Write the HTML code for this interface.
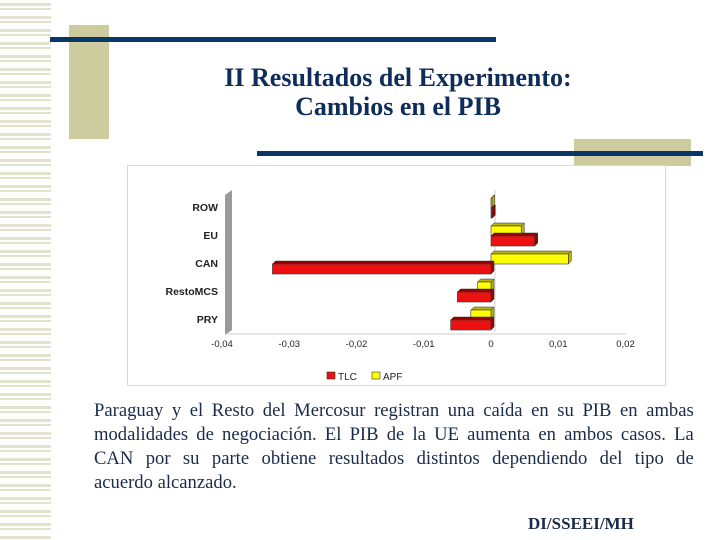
<!DOCTYPE html>
<html><head><meta charset="utf-8"><style>
body{margin:0;width:720px;height:540px;background:#fff;position:relative;overflow:hidden;font-family:"Liberation Serif",serif}
.abs{position:absolute}
#strip{left:0;top:0;width:51px;height:540px;background:repeating-linear-gradient(to bottom,#fff 0,#fff 3px,#e4e3cd 3px,#e4e3cd 6px,#fff 6px,#fff 8px,#e4e3cd 8px,#e4e3cd 10px,#fff 10px,#fff 13px)}
#title{left:100px;width:596px;top:63px;text-align:center;color:#0f2d5a;font-size:26px;line-height:29px;font-weight:bold}
#para{left:94px;width:612px;top:399px;color:#1a2a4a;font-size:19px;line-height:24px;transform:scaleX(0.98);transform-origin:0 0}
#para div{text-align:justify;text-align-last:justify;white-space:nowrap}
#para div.last{text-align-last:left}
#footer{left:528px;top:514px;color:#1a2a4a;font-size:17px;font-weight:bold}
</style></head><body>
<div id="strip" class="abs"></div>
<div class="abs" style="left:69px;top:25px;width:40px;height:114px;background:#cccc9e"></div>
<div class="abs" style="left:50px;top:37px;width:446px;height:5px;background:#0a3567"></div>
<div class="abs" style="left:574px;top:139px;width:117px;height:27px;background:#cccc9e"></div>
<div class="abs" style="left:257px;top:151px;width:446px;height:5px;background:#0a3567"></div>
<div id="title" class="abs">II Resultados del Experimento:<br>Cambios en el PIB</div>
<svg class="abs" style="left:0;top:0" width="720" height="540">
<rect x="127.5" y="165.5" width="538" height="220" fill="#fff" stroke="#d8d8d8"/>
<g id="g"></g>
</svg>
<div id="para" class="abs">
<div>Paraguay y el Resto del Mercosur registran una caída en su PIB en ambas</div>
<div>modalidades de negociación. El PIB de la UE aumenta en ambos casos. La</div>
<div>CAN por su parte obtiene resultados distintos dependiendo del tipo de</div>
<div class="last">acuerdo alcanzado.</div>
</div>
<div id="footer" class="abs">DI/SSEEI/MH</div>
<script>
const categories=["ROW","EU","CAN","RestoMCS","PRY"];
const tlc=[0.0002,0.0065,-0.0325,-0.005,-0.006];
const apf=[0.0001,0.0045,0.0115,-0.002,-0.003];
const ticks=[-0.04,-0.03,-0.02,-0.01,0,0.01,0.02];
const tickLabels=["-0,04","-0,03","-0,02","-0,01","0","0,01","0,02"];
const NS="http://www.w3.org/2000/svg",g=document.getElementById("g");
const x=v=>491+v*6725, top0=193, band=28;
function mk(t,a){const e=document.createElementNS(NS,t);for(const k in a)e.setAttribute(k,a[k]);g.appendChild(e);return e;}
let w=mk("polygon",{points:"225,195 232,190 232,330 225,335",fill:"#9a9a9a"});


let ax=mk("line",{x1:225,y1:334,x2:626,y2:334,stroke:"#cfcfcf"});


let zl=mk("line",{x1:x(0)+4,y1:190,x2:x(0)+4,y2:332,stroke:"#cfcfcf"});


ticks.forEach((t,i)=>{
 const tx=mk("text",{x:x(t),y:347,"text-anchor":"middle","font-family":"Liberation Sans, sans-serif","font-size":9.5,fill:"#222"});
 tx.textContent=tickLabels[i];
 
 
});
function bar(v,y,fill,side,name){
 const x0=x(0),x1=x(v),l=Math.min(x0,x1),r=Math.max(x0,x1),h=10,d=3;
 const s=mk("polygon",{points:`${r},${y} ${r+d},${y-d} ${r+d},${y+h-d} ${r},${y+h}`,fill:side,stroke:"#333","stroke-width":0.5});
 
 
 const tp=mk("polygon",{points:`${l},${y} ${l+d},${y-d} ${r+d},${y-d} ${r},${y}`,fill:side,stroke:"#333","stroke-width":0.5});
 
 
 const b=mk("rect",{x:l,y:y,width:Math.max(r-l,1),height:h,fill:fill,stroke:"#333","stroke-width":0.6});
 
 
}
categories.forEach((c,i)=>{
 const yc=top0+band*i+band/2;
 const lb=mk("text",{x:218,y:yc+4,"text-anchor":"end","font-family":"Liberation Sans, sans-serif","font-size":10.5,"font-weight":"bold",fill:"#222"});
 lb.textContent=c;
 
 
 bar(apf[i],yc-9,"#ffff00","#b8b800","bar-apf-"+c.toLowerCase());
 bar(tlc[i],yc+1,"#ee1111","#990000","bar-tlc-"+c.toLowerCase());
});
const leg=[["TLC","#ee1111",327],["APF","#ffff00",372]];
leg.forEach(l=>{
 const r=mk("rect",{x:l[2],y:372,width:8,height:7,fill:l[1],stroke:"#333","stroke-width":0.6});
 
 
 const t=mk("text",{x:l[2]+11,y:380,"font-family":"Liberation Sans, sans-serif","font-size":10,fill:"#222"});
 t.textContent=l[0];
 
 
});
</script>
</body></html>
